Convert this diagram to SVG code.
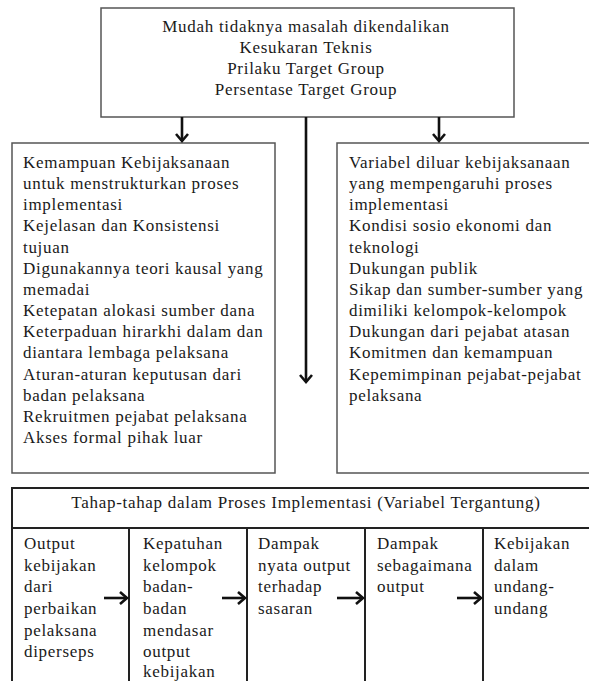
<svg xmlns="http://www.w3.org/2000/svg" width="589" height="681" viewBox="0 0 589 681">
  <style>
    text { font-family: "Liberation Serif", "Times New Roman", serif; font-size: 17px; fill: #1a1a1a; letter-spacing: 0.7px; }
    .c { text-anchor: middle; }
    .box { fill: #fff; stroke: #555; stroke-width: 1.5; }
    .tbl { fill: none; stroke: #222; stroke-width: 2; }
    .arr { fill: none; stroke: #111; stroke-width: 2.6; marker-end: url(#ah); }
  </style>
  <defs>
    <marker id="ah" viewBox="-2 -2 12 16" refX="7" refY="6" markerWidth="12" markerHeight="16" markerUnits="userSpaceOnUse" orient="auto">
      <path d="M0,0 L7,6 L0,12" fill="none" stroke="#111" stroke-width="2.6"/>
    </marker>
  </defs>
  <rect width="589" height="681" fill="#fff"/>

  <g id="top-box">
    <rect class="box" x="101" y="8" width="413" height="109"/>
    <text class="c" x="306" y="32">Mudah tidaknya masalah dikendalikan</text>
    <text class="c" x="306" y="53">Kesukaran Teknis</text>
    <text class="c" x="306" y="74">Prilaku Target Group</text>
    <text class="c" x="306" y="95">Persentase Target Group</text>
  </g>

  <g id="left-box">
    <rect class="box" x="12" y="143" width="263" height="330"/>
    <text x="23" y="168">Kemampuan Kebijaksanaan</text>
    <text x="23" y="189">untuk menstrukturkan proses</text>
    <text x="23" y="210">implementasi</text>
    <text x="23" y="231">Kejelasan dan Konsistensi</text>
    <text x="23" y="253">tujuan</text>
    <text x="23" y="274">Digunakannya teori kausal yang</text>
    <text x="23" y="295">memadai</text>
    <text x="23" y="316">Ketepatan alokasi sumber dana</text>
    <text x="23" y="337">Keterpaduan hirarkhi dalam dan</text>
    <text x="23" y="358">diantara lembaga pelaksana</text>
    <text x="23" y="380">Aturan-aturan keputusan dari</text>
    <text x="23" y="401">badan pelaksana</text>
    <text x="23" y="422">Rekruitmen pejabat pelaksana</text>
    <text x="23" y="443">Akses formal pihak luar</text>
  </g>

  <g id="right-box">
    <rect class="box" x="337" y="143" width="270" height="330"/>
    <text x="349" y="168">Variabel diluar kebijaksanaan</text>
    <text x="349" y="189">yang mempengaruhi proses</text>
    <text x="349" y="210">implementasi</text>
    <text x="349" y="231">Kondisi sosio ekonomi dan</text>
    <text x="349" y="253">teknologi</text>
    <text x="349" y="274">Dukungan publik</text>
    <text x="349" y="295">Sikap dan sumber-sumber yang</text>
    <text x="349" y="316">dimiliki kelompok-kelompok</text>
    <text x="349" y="337">Dukungan dari pejabat atasan</text>
    <text x="349" y="358">Komitmen dan kemampuan</text>
    <text x="349" y="380">Kepemimpinan pejabat-pejabat</text>
    <text x="349" y="401">pelaksana</text>
  </g>

  <g id="stages-table">
    <rect class="tbl" x="12" y="488" width="600" height="210"/>
    <line class="tbl" x1="12" y1="528" x2="600" y2="528"/>
    <text class="c" x="306" y="508">Tahap-tahap dalam Proses Implementasi (Variabel Tergantung)</text>
  </g>

  <g id="stage-1">
    <text x="24" y="549">Output</text>
    <text x="24" y="571">kebijakan</text>
    <text x="24" y="592">dari</text>
    <text x="24" y="614">perbaikan</text>
    <text x="24" y="636">pelaksana</text>
    <text x="24" y="657">diperseps</text>
  </g>
  <g id="stage-2">
    <line class="tbl" x1="129" y1="528" x2="129" y2="690"/>
    <text x="143" y="549">Kepatuhan</text>
    <text x="143" y="571">kelompok</text>
    <text x="143" y="592">badan-</text>
    <text x="143" y="614">badan</text>
    <text x="143" y="636">mendasar</text>
    <text x="143" y="657">output</text>
    <text x="143" y="677">kebijakan</text>
  </g>
  <g id="stage-3">
    <line class="tbl" x1="247" y1="528" x2="247" y2="690"/>
    <text x="258" y="549">Dampak</text>
    <text x="258" y="571">nyata output</text>
    <text x="258" y="592">terhadap</text>
    <text x="258" y="614">sasaran</text>
  </g>
  <g id="stage-4">
    <line class="tbl" x1="365" y1="528" x2="365" y2="690"/>
    <text x="377" y="549">Dampak</text>
    <text x="377" y="571">sebagaimana</text>
    <text x="377" y="592">output</text>
  </g>
  <g id="stage-5">
    <line class="tbl" x1="483" y1="528" x2="483" y2="690"/>
    <text x="494" y="549">Kebijakan</text>
    <text x="494" y="571">dalam</text>
    <text x="494" y="592">undang-</text>
    <text x="494" y="614">undang</text>
  </g>

  <g id="connectors">
    <line class="arr" x1="182" y1="117" x2="182" y2="141"/>
    <line class="arr" x1="306" y1="117" x2="306" y2="382"/>
    <line class="arr" x1="439" y1="117" x2="439" y2="141"/>
    <line class="arr" x1="104" y1="598" x2="127" y2="598"/>
    <line class="arr" x1="222" y1="598" x2="245" y2="598"/>
    <line class="arr" x1="337" y1="598" x2="363" y2="598"/>
    <line class="arr" x1="457" y1="598" x2="481" y2="598"/>
  </g>
</svg>
